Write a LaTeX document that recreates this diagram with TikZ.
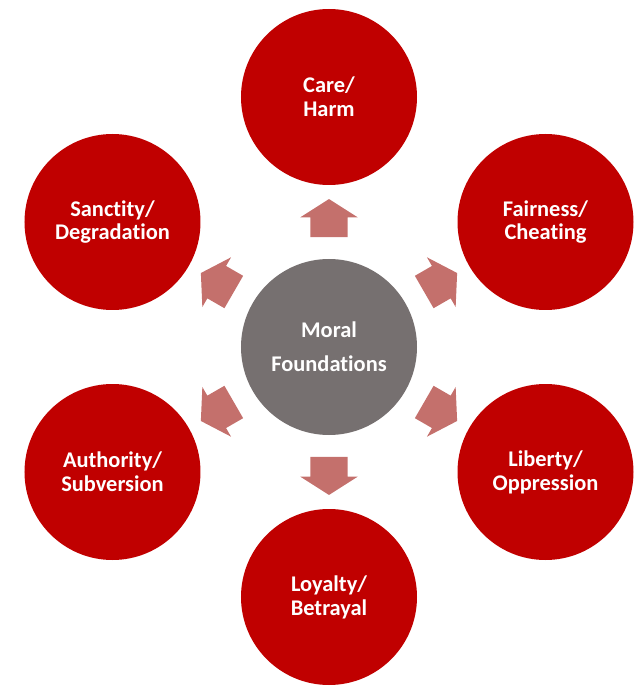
\documentclass[tikz,border=0pt]{standalone}
\usepackage{fontspec}
\setmainfont{Carlito}[Ligatures=NoCommon]
\usepackage{tikz}
\usetikzlibrary{positioning}
\usetikzlibrary{calc}
\usetikzlibrary{shapes.arrows}
\definecolor{foundred}{RGB}{192,0,0}
\definecolor{hubgray}{RGB}{118,112,112}
\definecolor{pushpink}{RGB}{196,112,108}
\newcommand\circlesize{176bp}
\newcommand\ringradius{250bp}
\tikzset{
    hub/.style={circle, fill=hubgray, minimum size=\circlesize, inner sep=0pt, text=white, align=center, font=\bfseries\fontsize{22.5}{34}\selectfont},
    foundation/.style={hub, fill=foundred, font=\bfseries\fontsize{22.5}{24}\selectfont},
    push/.style={single arrow, fill=pushpink, minimum height=38bp, inner xsep=0pt, inner ysep=18.5bp, single arrow head extend=10bp, single arrow tip angle=115},
}

\begin{document}
\begin{tikzpicture}[node distance=125bp and 216.5bp, on grid]
    \useasboundingbox (-329bp,-340bp) rectangle (308bp,347bp);
    \node(moral)[hub]{Moral\\Foundations};
    \node(care)[foundation, above=\ringradius of moral]{Care/\\Harm};
    \node(fairness)[foundation, above right=of moral]{Fairness/\\Cheating};
    \node(liberty)[foundation, below right=of moral]{Liberty/\\Oppression};
    \node(loyalty)[foundation, below=\ringradius of moral]{Loyalty/\\Betrayal};
    \node(authority)[foundation, below left=of moral]{Authority/\\Subversion};
    \node(sanctity)[foundation, above left=of moral]{Sanctity/\\Degradation};
    % block arrows out of the hub
    \node(toCare)[push, rotate=90] at ($(moral)!.492!(care)$){};
    \node(toFairness)[push, rotate=30] at ($(moral)!.492!(fairness)$){};
    \node(toLiberty)[push, rotate=-30] at ($(moral)!.492!(liberty)$){};
    \node(toLoyalty)[push, rotate=-90] at ($(moral)!.492!(loyalty)$){};
    \node(toAuthority)[push, rotate=-150] at ($(moral)!.492!(authority)$){};
    \node(toSanctity)[push, rotate=150] at ($(moral)!.492!(sanctity)$){};
\end{tikzpicture}
\end{document}
